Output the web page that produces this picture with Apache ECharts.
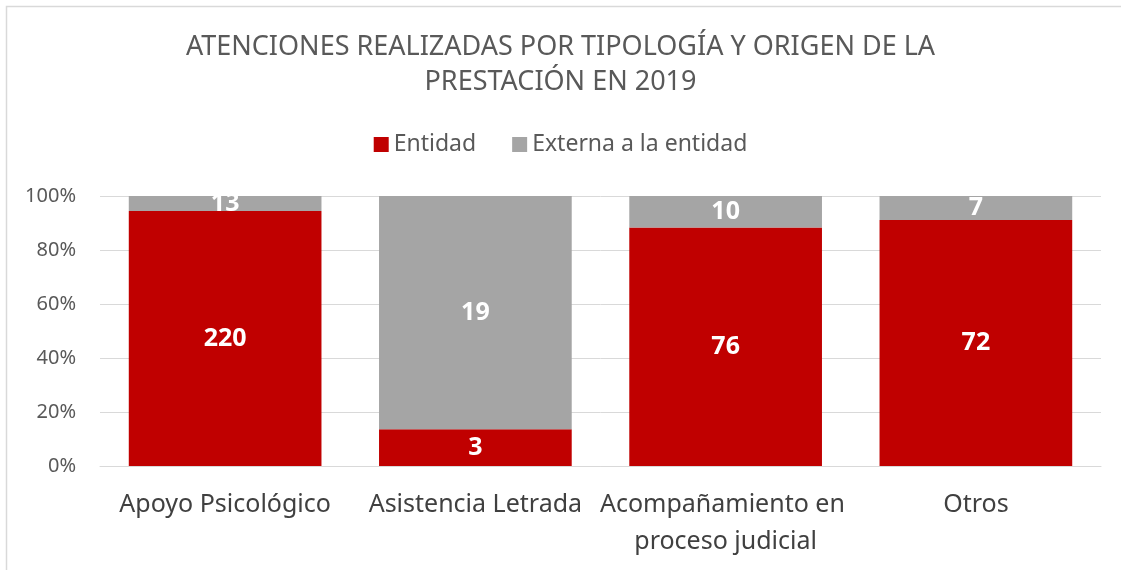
<!DOCTYPE html>
<html>
<head>
<meta charset="utf-8">
<script src="https://cdn.jsdelivr.net/npm/echarts@6/dist/echarts.min.js"></script>
<style>
  html, body { margin: 0; padding: 0; background: #fff; }
  #box { width: 1121px; height: 570px; }
</style>
</head>
<body>
<div id="box"></div>
<script>
// categorias y valores (atenciones)
var categorias = ["Apoyo Psicológico", "Asistencia Letrada", "Acompañamiento en proceso judicial", "Otros"];
var entidad = [220, 3, 76, 72];
var externa = [13, 19, 10, 7];
var tickLabels = ["0%", "20%", "40%", "60%", "80%", "100%"];

// pasar a porcentaje (barra 100% apilada)
function pct(arr) {
  return arr.map(function (v, i) {
    var total = entidad[i] + externa[i];
    return { value: (v / total) * 100, raw: v };
  });
}

var myChart = echarts.init(document.getElementById("box"));

var labelStyle = {
  show: true,
  position: "inside",
  color: "#fff",
  fontWeight: "bold",
  fontSize: 25,
  fontFamily: "Noto Sans",
  formatter: function (p) { return p.data.raw; },
};

var option = {
  backgroundColor: "#fff",
  animation: false,
  color: ["#c00000", "#a5a5a5"],
  title: {
    text: "ATENCIONES REALIZADAS POR TIPOLOGÍA Y ORIGEN DE LA\nPRESTACIÓN EN 2019",
    left: "center",
    top: 25,
    textStyle: {
      fontFamily: "Noto Sans",
      fontWeight: "normal",
      fontSize: 27,
      color: "#595959",
      lineHeight: 35,
      align: "center",
    },
  },
  legend: {
    top: 128,
    left: "center",
    itemWidth: 15,
    itemHeight: 15,
    itemGap: 36,
    icon: "rect",
    textStyle: { fontFamily: "Noto Sans", fontSize: 23, color: "#595959" },
    data: ["Entidad", "Externa a la entidad"],
  },
  grid: { left: 100, right: 20, top: 196, bottom: 104 },
  xAxis: {
    type: "category",
    data: categorias,
    axisTick: { show: false },
    axisLine: { lineStyle: { color: "#d9d9d9", width: 1 } },
    axisLabel: {
      color: "#404040",
      fontFamily: "Noto Sans",
      fontSize: 25,
      margin: 20,
      width: 265,
      overflow: "break",
      lineHeight: 37,
      interval: 0,
    },
  },
  yAxis: {
    type: "value",
    min: 0,
    max: 100,
    interval: 20,
    axisLine: { show: false },
    axisTick: { show: false },
    splitLine: { lineStyle: { color: "#d9d9d9" } },
    axisLabel: {
      color: "#595959",
      fontFamily: "Noto Sans",
      fontSize: 20,
      margin: 24,
      formatter: function (v) { return tickLabels[v / 20]; },
    },
  },
  series: [
    {
      name: "Entidad",
      type: "bar",
      stack: "total",
      barCategoryGap: "23%",
      data: pct(entidad),
      label: labelStyle,
    },
    {
      name: "Externa a la entidad",
      type: "bar",
      stack: "total",
      data: pct(externa),
      label: labelStyle,
    },
  ],
  graphic: [
    {
      type: "rect",
      shape: { x: 6.5, y: 6.5, width: 1200, height: 700 },
      style: { fill: "none", stroke: "#d9d9d9", lineWidth: 1.5 },
      silent: true,
    },
  ],
};

myChart.setOption(option);
</script>
</body>
</html>
